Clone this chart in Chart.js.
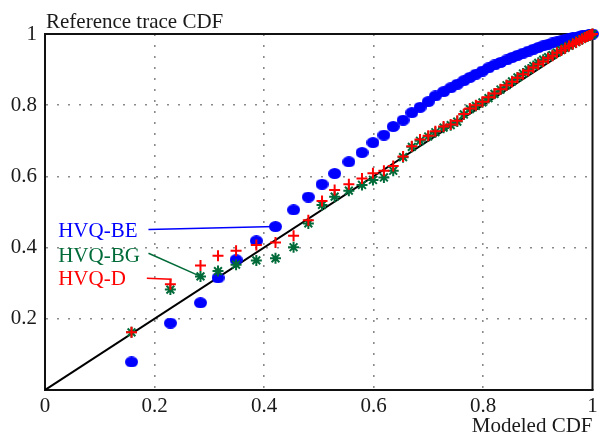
<!DOCTYPE html>
<html><head><meta charset="utf-8">
<script src="https://cdn.jsdelivr.net/npm/chart.js@4.4.1/dist/chart.umd.min.js"></script>
<style>html,body{margin:0;padding:0;background:#fff}#wrap{width:600px;height:439px}</style>
</head><body><div id="wrap"><canvas id="c" width="600" height="439"></canvas></div>
<script>
// Shared modeled-CDF quantiles (x)
const modeledCDF = [0.158,0.229,0.284,0.316,0.349,0.386,0.421,0.454,0.481,0.506,
  0.529,0.555,0.579,0.599,0.619,0.636,0.654,0.670,0.685,0.700,
  0.713,0.728,0.741,0.753,0.765,0.776,0.787,0.799,0.810,0.821,
  0.832,0.843,0.853,0.863,0.873,0.883,0.892,0.901,0.910,0.919,
  0.927,0.935,0.943,0.950,0.957,0.964,0.970,0.976,0.981,0.986,
  0.990,0.994,0.997,1.000];
// Reference trace CDF (y) per model
const hvqBE = [0.079,0.188,0.245,0.315,0.366,0.419,0.459,0.506,0.542,0.578,
  0.608,0.641,0.667,0.695,0.716,0.740,0.758,0.779,0.794,0.810,
  0.826,0.838,0.849,0.859,0.869,0.878,0.887,0.896,0.905,0.913,
  0.920,0.927,0.934,0.940,0.946,0.952,0.957,0.962,0.967,0.971,
  0.975,0.978,0.981,0.984,0.986,0.989,0.991,0.993,0.995,0.996,
  0.997,0.998,0.999,1.000];
const hvqBG = [0.162,0.282,0.319,0.334,0.352,0.364,0.370,0.401,0.468,0.520,
  0.543,0.560,0.576,0.590,0.597,0.616,0.654,0.683,0.700,0.712,
  0.724,0.737,0.744,0.754,0.774,0.789,0.798,0.808,0.820,0.832,
  0.844,0.856,0.867,0.878,0.889,0.900,0.910,0.919,0.928,0.935,
  0.941,0.948,0.955,0.961,0.967,0.972,0.977,0.982,0.986,0.990,
  0.993,0.996,0.998,1.000];
const hvqD = [0.162,0.297,0.350,0.377,0.391,0.407,0.414,0.433,0.477,0.531,
  0.562,0.578,0.594,0.609,0.616,0.629,0.656,0.685,0.704,0.714,
  0.727,0.740,0.746,0.756,0.775,0.791,0.800,0.810,0.822,0.833,
  0.845,0.856,0.866,0.877,0.887,0.897,0.906,0.915,0.923,0.932,
  0.939,0.947,0.954,0.960,0.966,0.972,0.977,0.982,0.986,0.990,
  0.993,0.996,0.998,1.000];
const diagonal = [0, 1];
const xTicks = [0, 0.2, 0.4, 0.6, 0.8, 1];
const yTicks = [0.2, 0.4, 0.6, 0.8, 1];
const seriesNames = ['HVQ-BE', 'HVQ-BG', 'HVQ-D'];
const axisTitles = {x: 'Modeled CDF', y: 'Reference trace CDF'};

const BLUE = '#0000ff', GREEN = '#006b38', RED = '#ff0000';
const pts = ys => modeledCDF.map((v, i) => ({x: v, y: ys[i]}));

// ellipse marker
const ell = document.createElement('canvas');
ell.width = 13; ell.height = 11;
(() => { const g = ell.getContext('2d'); g.fillStyle = BLUE; g.beginPath(); g.ellipse(6.5, 5.5, 6.5, 5.5, 0, 0, Math.PI * 2); g.fill(); })();

const FONT = "'Liberation Serif','Times New Roman',serif";
Chart.defaults.font.family = FONT;
Chart.defaults.font.size = 21;
Chart.defaults.color = '#1a1a1a';

const callouts = [
  {ds: 0, idx: 6, text: seriesNames[0], color: BLUE, tx: 0.024, ty: 0.429, path: [[0.189, 0.451]]},
  {ds: 1, idx: 2, text: seriesNames[1], color: GREEN, tx: 0.024, ty: 0.360, path: [[0.189, 0.384]]},
  {ds: 2, idx: 1, text: seriesNames[2], color: RED, tx: 0.024, ty: 0.295, path: [[0.186, 0.314], [0.230, 0.311]]}
];
const seriesY = [hvqBE, hvqBG, hvqD];

const decor = {
  id: 'decor',
  beforeDatasetsDraw(chart) {
    const {ctx, chartArea: a, scales: {x, y}} = chart;
    ctx.save();
    ctx.strokeStyle = '#111'; ctx.lineWidth = 2;
    ctx.beginPath(); ctx.moveTo(a.left, a.top); ctx.lineTo(a.right, a.top); ctx.lineTo(a.right, a.bottom); ctx.stroke();
    ctx.lineWidth = 1.5;
    callouts.forEach(c => {
      ctx.strokeStyle = c.color;
      ctx.beginPath();
      c.path.forEach((p, i) => { const px = x.getPixelForValue(p[0]), py = y.getPixelForValue(p[1]); i ? ctx.lineTo(px, py) : ctx.moveTo(px, py); });
      ctx.lineTo(x.getPixelForValue(modeledCDF[c.idx]), y.getPixelForValue(seriesY[c.ds][c.idx]));
      ctx.stroke();
    });
    ctx.restore();
  },
  afterDraw(chart) {
    const {ctx, chartArea: a, scales: {x, y}} = chart;
    ctx.save();
    ctx.font = '21px ' + FONT;
    ctx.textBaseline = 'alphabetic';
    ctx.textAlign = 'left';
    ctx.fillStyle = '#1a1a1a';
    ctx.fillText(axisTitles.y, a.left + 1, a.top - 6.5);
    callouts.forEach(c => { ctx.fillStyle = c.color; ctx.fillText(c.text, x.getPixelForValue(c.tx), y.getPixelForValue(c.ty)); });
    ctx.restore();
  }
};

const gridColor = c => (c.tick && (c.tick.value === 0 || c.tick.value === 1)) ? 'rgba(0,0,0,0)' : '#8a8a8a';

new Chart(document.getElementById('c'), {
  type: 'scatter',
  data: {
    datasets: [
      {label: seriesNames[0], data: pts(hvqBE), pointStyle: ell, pointRadius: 6, pointHoverRadius: 6, order: 3, clip: false},
      {label: seriesNames[1], data: pts(hvqBG), pointStyle: 'star', pointRadius: 5.5, borderColor: GREEN, backgroundColor: GREEN, borderWidth: 2, order: 2, clip: false},
      {label: seriesNames[2], data: pts(hvqD), pointStyle: 'cross', pointRadius: 5.5, borderColor: RED, backgroundColor: RED, borderWidth: 2, order: 1, clip: false},
      {label: 'y=x', data: diagonal.map(v => ({x: v, y: v})), showLine: true, pointRadius: 0, borderColor: '#000', borderWidth: 2, order: 4}
    ]
  },
  options: {
    responsive: false, animation: false, devicePixelRatio: 1,
    layout: {padding: {top: 34, right: 4, left: 0, bottom: 0}},
    plugins: {legend: {display: false}, tooltip: {enabled: false}, title: {display: false}},
    scales: {
      x: {
        type: 'linear', min: 0, max: 1,
        afterBuildTicks: s => { s.ticks = xTicks.map(v => ({value: v})); },
        afterFit: s => { s.height = 49; s.paddingLeft = 0; s.paddingRight = 0; },
        ticks: {padding: 4, maxRotation: 0, autoSkip: false, callback: v => String(v)},
        grid: {color: gridColor, lineWidth: 1.6, drawTicks: false},
        border: {display: true, color: '#111', width: 2, dash: [2, 9]},
        title: {display: true, text: axisTitles.x, align: 'end', padding: {top: 0, bottom: 0}, font: {size: 21}}
      },
      y: {
        type: 'linear', min: 0, max: 1,
        afterBuildTicks: s => { s.ticks = yTicks.map(v => ({value: v})); },
        afterFit: s => { s.width = 45; s.paddingTop = 0; s.paddingBottom = 0; },
        ticks: {padding: 8, autoSkip: false, callback: v => String(v)},
        grid: {color: gridColor, lineWidth: 1.6, drawTicks: false},
        border: {display: true, color: '#111', width: 2, dash: [2, 9]}
      }
    }
  },
  plugins: [decor]
});
</script>
</body></html>
